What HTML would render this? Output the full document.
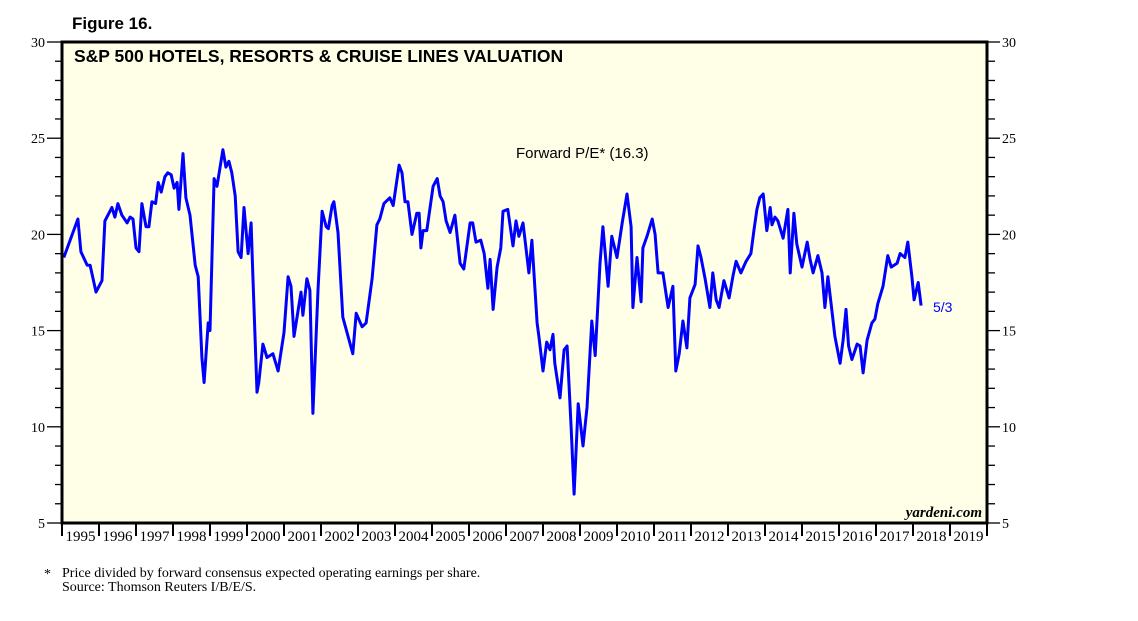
<!DOCTYPE html>
<html><head><meta charset="utf-8"><style>
html,body{margin:0;padding:0;background:#fff;}
svg{display:block;}
</style></head><body>
<svg id="chart" width="1138" height="621" viewBox="0 0 1138 621" xmlns="http://www.w3.org/2000/svg">
<text x="72" y="29" font-family="Liberation Sans, sans-serif" font-size="17" font-weight="bold">Figure 16.</text>
<rect x="62" y="42" width="925" height="481" fill="#ffffe8"/>
<g id="axes"></g>
<path id="line" fill="none" stroke="#0000ff" stroke-width="3" stroke-linejoin="round"/>
<rect x="62" y="42" width="925" height="481" fill="none" stroke="#000" stroke-width="3"/>
<text x="74" y="62" font-family="Liberation Sans, sans-serif" font-size="17.5" font-weight="bold">S&amp;P 500 HOTELS, RESORTS &amp; CRUISE LINES VALUATION</text>
<text x="516" y="158" font-family="Liberation Sans, sans-serif" font-size="15">Forward P/E* (16.3)</text>
<text x="933" y="312" font-family="Liberation Sans, sans-serif" font-size="14" fill="#0000ff">5/3</text>
<text x="982" y="517" text-anchor="end" font-family="Liberation Serif, serif" font-size="15" font-style="italic" font-weight="bold">yardeni.com</text>
<text x="44" y="578" font-family="Liberation Serif, serif" font-size="14">*</text>
<text x="62" y="577" font-family="Liberation Serif, serif" font-size="14">Price divided by forward consensus expected operating earnings per share.</text>
<text x="62" y="591" font-family="Liberation Serif, serif" font-size="14">Source: Thomson Reuters I/B/E/S.</text>
</svg>
<script>
const dates=[1995.05,1995.43,1995.51,1995.68,1995.76,1995.92,1996.08,1996.16,1996.35,1996.43,1996.51,1996.62,1996.76,1996.84,1996.92,1997.0,1997.08,1997.16,1997.27,1997.35,1997.43,1997.53,1997.6,1997.68,1997.78,1997.86,1997.95,1998.03,1998.11,1998.16,1998.27,1998.35,1998.46,1998.6,1998.68,1998.78,1998.84,1998.95,1999.0,1999.11,1999.19,1999.35,1999.43,1999.51,1999.59,1999.68,1999.76,1999.84,1999.92,2000.03,2000.11,2000.16,2000.27,2000.32,2000.43,2000.54,2000.7,2000.84,2001.0,2001.11,2001.19,2001.27,2001.46,2001.51,2001.62,2001.7,2001.78,2001.92,2002.03,2002.14,2002.2,2002.3,2002.35,2002.46,2002.59,2002.86,2002.95,2003.11,2003.22,2003.38,2003.51,2003.59,2003.7,2003.86,2003.95,2004.11,2004.19,2004.27,2004.35,2004.46,2004.59,2004.65,2004.7,2004.76,2004.86,2005.03,2005.14,2005.22,2005.3,2005.38,2005.49,2005.62,2005.76,2005.86,2006.03,2006.1,2006.19,2006.32,2006.41,2006.51,2006.57,2006.65,2006.76,2006.86,2006.92,2007.05,2007.19,2007.27,2007.35,2007.46,2007.62,2007.7,2007.84,2007.89,2008.0,2008.1,2008.19,2008.27,2008.32,2008.46,2008.57,2008.65,2008.76,2008.84,2008.95,2009.08,2009.19,2009.32,2009.41,2009.54,2009.62,2009.76,2009.86,2010.0,2010.14,2010.27,2010.38,2010.43,2010.54,2010.65,2010.7,2010.81,2010.95,2011.03,2011.11,2011.24,2011.38,2011.51,2011.59,2011.68,2011.78,2011.89,2011.97,2012.11,2012.19,2012.27,2012.38,2012.51,2012.59,2012.68,2012.76,2012.89,2013.03,2013.14,2013.22,2013.35,2013.49,2013.62,2013.7,2013.78,2013.86,2013.95,2014.05,2014.14,2014.19,2014.27,2014.35,2014.49,2014.62,2014.68,2014.78,2014.86,2015.0,2015.14,2015.22,2015.3,2015.43,2015.54,2015.62,2015.7,2015.81,2015.89,2016.03,2016.11,2016.19,2016.26,2016.35,2016.49,2016.57,2016.65,2016.76,2016.89,2016.97,2017.05,2017.19,2017.32,2017.41,2017.57,2017.65,2017.78,2017.86,2017.97,2018.03,2018.14,2018.22,2018.27,2018.35];
const values=[18.8,20.8,19.1,18.4,18.4,17.0,17.6,20.7,21.4,20.9,21.6,21.0,20.6,20.9,20.8,19.3,19.1,21.6,20.4,20.4,21.7,21.6,22.7,22.2,23.0,23.2,23.1,22.4,22.7,21.3,24.2,21.9,21.0,18.4,17.8,13.6,12.3,15.4,15.0,22.9,22.5,24.4,23.5,23.8,23.2,22.0,19.1,18.8,21.4,19.0,20.6,17.8,11.8,12.3,14.3,13.6,13.8,12.9,14.9,17.8,17.3,14.7,17.0,15.8,17.7,17.1,10.7,17.1,21.2,20.4,20.3,21.5,21.7,20.1,15.7,13.8,15.9,15.2,15.4,17.7,20.5,20.8,21.6,21.9,21.5,23.6,23.2,21.7,21.7,20.0,21.1,21.1,19.3,20.2,20.2,22.5,22.9,22.0,21.7,20.7,20.1,21.0,18.5,18.2,20.6,20.6,19.6,19.7,19.0,17.2,18.7,16.1,18.3,19.3,21.2,21.3,19.4,20.7,19.9,20.6,18.0,19.7,15.4,14.7,12.9,14.4,14.0,14.8,13.3,11.5,14.0,14.2,10.0,6.5,11.2,9.0,11.0,15.5,13.7,18.5,20.4,17.3,19.9,18.8,20.6,22.1,20.4,16.2,18.8,16.5,19.3,19.9,20.8,20.0,18.0,18.0,16.2,17.3,12.9,13.8,15.5,14.1,16.7,17.4,19.4,18.8,17.7,16.2,18.0,16.6,16.2,17.6,16.7,17.9,18.6,18.0,18.6,19.0,20.2,21.3,21.9,22.1,20.2,21.4,20.5,20.9,20.7,19.8,21.3,18.0,21.1,19.5,18.3,19.6,18.7,18.0,18.9,18.0,16.2,17.8,16.0,14.7,13.3,14.5,16.1,14.2,13.5,14.3,14.2,12.8,14.5,15.4,15.6,16.4,17.3,18.9,18.3,18.5,19.0,18.8,19.6,17.8,16.6,17.5,16.3];
const yTicks=[5,10,15,20,25,30];
const years=[1995,1996,1997,1998,1999,2000,2001,2002,2003,2004,2005,2006,2007,2008,2009,2010,2011,2012,2013,2014,2015,2016,2017,2018,2019];

const X0=62,X1=987,Y0=523,Y1=42,TMIN=1995,TMAX=2020,VMIN=5,VMAX=30;
function xs(t){return X0+(t-TMIN)/(TMAX-TMIN)*(X1-X0);}
function ys(v){return Y0-(v-VMIN)/(VMAX-VMIN)*(Y0-Y1);}
const NS='http://www.w3.org/2000/svg';
const axes=document.getElementById('axes');
function mk(tag,attrs){const e=document.createElementNS(NS,tag);for(const k in attrs)e.setAttribute(k,attrs[k]);axes.appendChild(e);return e;}
for(let v=VMIN;v<=VMAX;v++){
  const y=ys(v);const major=yTicks.includes(v);
  const l=mk('line',{x1:major?47:55,x2:61,y1:y,y2:y,stroke:'#000','stroke-width':1.3});
  
  
  const r=mk('line',{x1:988,x2:major?1000:995,y1:y,y2:y,stroke:'#000','stroke-width':1.3});
  
  
}
yTicks.forEach(v=>{
  const y=ys(v);
  const a=mk('text',{x:45,y:y+5,'text-anchor':'end','font-family':'Liberation Serif, serif','font-size':14});
  a.textContent=v;
  
  
  const b=mk('text',{x:1002,y:y+5,'font-family':'Liberation Serif, serif','font-size':14});
  b.textContent=v;
  
  
});
years.forEach(yr=>{
  const x=xs(yr);
  const t=mk('line',{x1:x,x2:x,y1:523,y2:536,stroke:'#000','stroke-width':2});
  
  
  const lb=mk('text',{x:x+18.5,y:541,'text-anchor':'middle','font-family':'Liberation Serif, serif','font-size':15});
  lb.textContent=yr;
  
  
});
const lastT=xs(TMAX);
const lt=mk('line',{x1:lastT,x2:lastT,y1:523,y2:536,stroke:'#000','stroke-width':2});


let d='';
dates.forEach((t,i)=>{d+=(i?'L':'M')+xs(t).toFixed(1)+','+ys(values[i]).toFixed(1);});
document.getElementById('line').setAttribute('d',d);
</script>
</body></html>
